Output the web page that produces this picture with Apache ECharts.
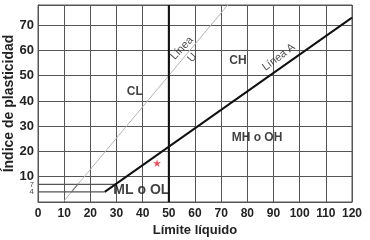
<!DOCTYPE html>
<html><head><meta charset="utf-8">
<script src="https://cdn.jsdelivr.net/npm/echarts@6/dist/echarts.min.js"></script>
<style>html,body{margin:0;padding:0;background:#fff}#c{width:370px;height:240px}</style>
</head><body><div id="c"></div>
<script>
const yLabelValues = [10, 20, 30, 40, 50, 60, 70];
const yZoneLabelValues = [4, 7];
const lineA = [[25.5, 4], [120, 73]];
const lineU = [[9.6, 0], [72.5, 78]];
const lineLL50 = [[50, 0], [50, 78]];
const zoneTop = [[0, 7], [29.6, 7]];
const zoneBottom = [[0, 4], [25.5, 4]];
const zoneU = [[12.8, 4], [15.2, 7]];
const samplePoint = [[45.5, 15.4]];
const zoneLabels = [
  { name: 'CL', value: [37, 43.5], size: 12 },
  { name: 'CH', value: [76.4, 56], size: 12 },
  { name: 'MH o OH', value: [83.7, 25.3], size: 12 },
  { name: 'ML o OL', value: [39.5, 4.5], size: 14 }
];
const lineLabels = [
  { name: 'Línea\nU', value: [57, 59], rot: 47 },
  { name: 'Línea A', value: [92, 57.3], rot: 37 }
];
const FONT = '"Liberation Sans", Arial, sans-serif';
const star = 'path://M50,0 L61,35 L98,35 L68,57 L79,91 L50,70 L21,91 L32,57 L2,35 L39,35 Z';

function lineSeries(data, color, width) {
  return { type: 'line', data: data, symbol: 'none', silent: true,
    lineStyle: { color: color, width: width }, z: 3 };
}

const chart = echarts.init(document.getElementById('c'), null, { renderer: 'canvas' });
chart.setOption({
  animation: false,
  grid: { left: 38, right: 18, top: 5, bottom: 38, show: true, borderColor: '#555', borderWidth: 1,
    containLabel: false, outerBoundsMode: 'none' },
  xAxis: {
    type: 'value', min: 0, max: 120, interval: 10,
    name: 'Límite líquido', nameLocation: 'middle', nameGap: 22, nameMoveOverlap: false,
    nameTextStyle: { fontFamily: FONT, fontWeight: 'bold', fontSize: 13, color: '#222' },
    axisLine: { show: true, lineStyle: { color: '#555' } },
    axisTick: { show: false },
    axisLabel: { margin: 6, fontFamily: FONT, fontWeight: 'bold', fontSize: 12, color: '#222' },
    splitLine: { show: true, lineStyle: { color: '#555', width: 1 } }
  },
  yAxis: {
    type: 'value', min: 0, max: 78, interval: 10,
    name: 'Índice de plasticidad', nameLocation: 'middle', nameGap: 22, nameRotate: 90,
    nameMoveOverlap: false,
    nameTextStyle: { fontFamily: FONT, fontWeight: 'bold', fontSize: 14, color: '#222' },
    axisLine: { show: true, lineStyle: { color: '#555' } },
    axisTick: { show: false },
    axisLabel: {
      customValues: yLabelValues, margin: 4, fontFamily: FONT, fontWeight: 'bold', fontSize: 13, color: '#222'
    },
    splitLine: { show: true, lineStyle: { color: '#555', width: 1 } }
  },
  series: [
    lineSeries(lineU, '#b5b5b5', 1),
    lineSeries(zoneTop, '#555', 1.3),
    lineSeries(zoneBottom, '#555', 1.3),
    lineSeries(zoneU, '#777', 1.2),
    lineSeries(lineA, '#111', 2),
    lineSeries(lineLL50, '#111', 2),
    { type: 'scatter', data: samplePoint, symbol: star, symbolSize: 8,
      itemStyle: { color: '#e8202a' }, z: 5 },
    { type: 'scatter', data: yZoneLabelValues.map(v => ({ name: String(v), value: [0, v] })),
      symbolSize: 0, clip: false, z: 6,
      label: { show: true, position: 'left', distance: 4, formatter: '{b}', fontFamily: FONT,
        fontSize: 8, color: '#222' } },
    { type: 'scatter', data: zoneLabels.map(d => ({ name: d.name, value: d.value,
        label: { fontSize: d.size } })), symbolSize: 0, z: 6,
      label: { show: true, position: 'inside', formatter: '{b}', fontFamily: FONT,
        fontWeight: 'bold', color: '#111' } },
    { type: 'scatter', data: lineLabels.map(d => ({ name: d.name, value: d.value,
        label: { rotate: d.rot } })), symbolSize: 0, z: 6,
      label: { show: true, position: 'inside', formatter: '{b}', fontFamily: FONT,
        fontSize: 11, color: '#222', lineHeight: 14, align: 'center' } }
  ]
});
</script></body></html>
